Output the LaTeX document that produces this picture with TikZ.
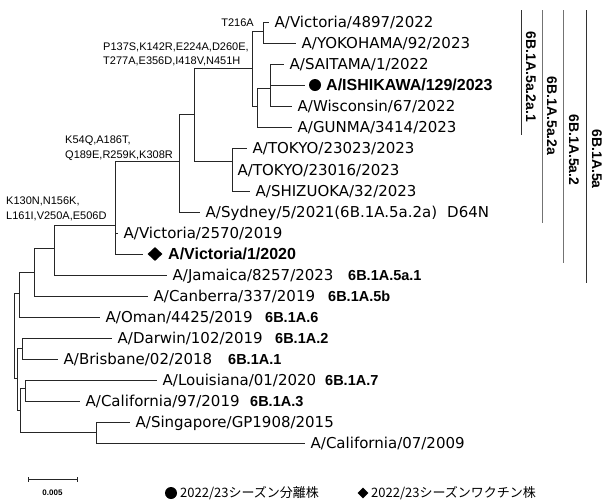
\documentclass[tikz,border=0pt]{standalone}
\usepackage{fontspec}
\setmainfont{DejaVu Sans}
\newfontfamily\lbfont{Liberation Sans}
\newfontfamily\jpfont{Noto Sans CJK JP}
\usetikzlibrary{shapes.geometric}
\begin{document}
\begin{tikzpicture}[x=1pt,y=-1pt,
  br/.style={draw=black!85, line width=0.9pt},
  bar/.style={draw=black!80, line width=1pt},
  leaf/.style={anchor=west, inner ysep=0pt, inner xsep=5.5pt, font=\fontsize{15}{15}\selectfont, text height=10.9pt, text depth=0pt},
  leafb/.style={anchor=west, inner ysep=0pt, inner xsep=5pt, font=\lbfont\bfseries\fontsize{16}{16}\selectfont, text height=11.5pt, text depth=0pt},
  clade/.style={anchor=west, inner sep=0pt, font=\lbfont\bfseries\fontsize{14.5}{14.5}\selectfont, text height=10.4pt, text depth=0pt},
  vclade/.style={inner sep=0pt, rotate=-90, font=\lbfont\bfseries\fontsize{14}{14}\selectfont, text height=10pt, text depth=0pt},
  mut/.style={inner sep=0pt, font=\lbfont\fontsize{11}{11}\selectfont, text height=7.9pt, text depth=0pt},
  dotmark/.style={circle, fill=black, inner sep=0pt, minimum size=12pt},
  diamark/.style={diamond, fill=black, inner sep=0pt, minimum width=15pt, minimum height=14pt},
  legtxt/.style={anchor=west, inner sep=0pt, font=\jpfont\fontsize{13}{13}\selectfont, text height=9.5pt, text depth=0pt}
]
\useasboundingbox (0,0) rectangle (607,499);

% internal nodes
\coordinate (R) at (14,335);
\coordinate (N1) at (19,293);
\coordinate (N3) at (34,272);
\coordinate (N4) at (54,248);
\coordinate (N5) at (115,225);
\coordinate (N6) at (179,161);
\coordinate (N7) at (194,114);
\coordinate (N8) at (252,68);
\coordinate (N9) at (232,161);
\coordinate (N10) at (263,31);
\coordinate (N11) at (257,106);
\coordinate (N12) at (270,88);
\coordinate (N2) at (17,378);
\coordinate (N13) at (22,348);
\coordinate (N14) at (20,410);
\coordinate (N15) at (25,388);
\coordinate (N16) at (96,432);

% leaves
\node[leaf] (l0) at (269,22) {A/Victoria/4897/2022};
\node[leaf] (l1) at (296,43) {A/YOKOHAMA/92/2023};
\node[leaf] (l2) at (284,64) {A/SAITAMA/1/2022};
\coordinate (e3) at (305,85);
\node[dotmark] (d3) at (315,85) {};
\node[leafb] (l3) at (321,85) {A/ISHIKAWA/129/2023};
\node[leaf] (l4) at (292,106) {A/Wisconsin/67/2022};
\node[leaf] (l5) at (292,127) {A/GUNMA/3414/2023};
\node[leaf] (l6) at (247,148) {A/TOKYO/23023/2023};
\node[leaf] (l7) at (232,170) {A/TOKYO/23016/2023};
\node[leaf] (l8) at (250,191) {A/SHIZUOKA/32/2023};
\node[leaf] (l9) at (200,212) {A/Sydney/5/2021(6B.1A.5a.2a)};
\node[leaf, inner xsep=0pt] (d64) at (447,212) {D64N};
\node[leaf] (l10) at (118,233) {A/Victoria/2570/2019};
\coordinate (e11) at (143,254);
\node[diamark] (d11) at (155,254) {};
\node[leafb] (l11) at (163,254) {A/Victoria/1/2020};
\node[leaf] (l12) at (167,275) {A/Jamaica/8257/2023};
\node[leaf] (l13) at (148,296) {A/Canberra/337/2019};
\node[leaf] (l14) at (100,317) {A/Oman/4425/2019};
\node[leaf] (l15) at (112,338) {A/Darwin/102/2019};
\node[leaf] (l16) at (58,359) {A/Brisbane/02/2018};
\node[leaf] (l17) at (157,380) {A/Louisiana/01/2020};
\node[leaf] (l18) at (80,401) {A/California/97/2019};
\node[leaf] (l19) at (130,422) {A/Singapore/GP1908/2015};
\node[leaf] (l20) at (305,443) {A/California/07/2009};

% clade labels next to leaves
\node[clade] (c12) at (348,275) {6B.1A.5a.1};
\node[clade] (c13) at (328,296) {6B.1A.5b};
\node[clade] (c14) at (265,317) {6B.1A.6};
\node[clade] (c15) at (275,338) {6B.1A.2};
\node[clade] (c16) at (228,359) {6B.1A.1};
\node[clade] (c17) at (325,380) {6B.1A.7};
\node[clade] (c18) at (250,401) {6B.1A.3};

% mutation labels
\node[mut, anchor=east] (m1) at (254,23) {T216A};
\node[mut, anchor=west] (m2a) at (103,47) {P137S,K142R,E224A,D260E,};
\node[mut, anchor=west] (m2b) at (103,61) {T277A,E356D,I418V,N451H};
\node[mut, anchor=west] (m3a) at (65,140) {K54Q,A186T,};
\node[mut, anchor=west] (m3b) at (65,155) {Q189E,R259K,K308R};
\node[mut, anchor=west] (m4a) at (6,201) {K130N,N156K,};
\node[mut, anchor=west] (m4b) at (6,216) {L161I,V250A,E506D};

% branches
\draw[br] (R) |- (N1);
\draw[br] (R) |- (N2);
\draw[br] (N1) |- (N3);
\draw[br] (N1) |- (l14.west);
\draw[br] (N3) |- (N4);
\draw[br] (N3) |- (l13.west);
\draw[br] (N4) |- (N5);
\draw[br] (N4) |- (l12.west);
\draw[br] (N5) |- (N6);
\draw[br] (N5) |- (l10.west);
\draw[br] (N5) |- (e11);
\draw[br] (N6) |- (N7);
\draw[br] (N6) |- (l9.west);
\draw[br] (N7) |- (N8);
\draw[br] (N7) |- (N9);
\draw[br] (N9) |- (l6.west);
\draw[br] (N9) |- (l7.west);
\draw[br] (N9) |- (l8.west);
\draw[br] (N8) |- (N10);
\draw[br] (N8) |- (N11);
\draw[br] (N10) |- (l0.west);
\draw[br] (N10) |- (l1.west);
\draw[br] (N11) |- (N12);
\draw[br] (N11) |- (l5.west);
\draw[br] (N12) |- (l2.west);
\draw[br] (N12) |- (e3);
\draw[br] (N12) |- (l4.west);
\draw[br] (N2) |- (N13);
\draw[br] (N2) |- (N14);
\draw[br] (N13) |- (l15.west);
\draw[br] (N13) |- (l16.west);
\draw[br] (N14) |- (N15);
\draw[br] (N14) |- (N16);
\draw[br] (N15) |- (l17.west);
\draw[br] (N15) |- (l18.west);
\draw[br] (N16) |- (l19.west);
\draw[br] (N16) |- (l20.west);

% right clade bars
\draw[bar] (521,10) -- (521,135);
\node[vclade] (v1) at (531,77) {6B.1A.5a.2a.1};
\draw[bar, draw=black!55] (542,10) -- (542,223);
\node[vclade] (v2) at (552,116) {6B.1A.5a.2a};
\draw[bar, draw=black!55] (563,10) -- (563,263);
\node[vclade] (v3) at (574,150) {6B.1A.5a.2};
\draw[bar] (586,10) -- (586,283);
\node[vclade] (v4) at (597,159) {6B.1A.5a};

% scale bar
\coordinate (sb1) at (28,479);
\coordinate (sb2) at (77,479);
\draw[br, line width=0.8pt] (sb1) -- (sb2);
\draw[br, line width=0.8pt] ([yshift=-2.5pt]sb1) -- ([yshift=2.5pt]sb1);
\draw[br, line width=0.8pt] ([yshift=-2.5pt]sb2) -- ([yshift=2.5pt]sb2);
\node[inner sep=0pt, font=\lbfont\bfseries\fontsize{8}{8}\selectfont] (sbl) at (52.5,493) {0.005};

% legend
\node[dotmark] (ld) at (171,493) {};
\node[legtxt] (lt1) at (180,493) {2022/23シーズン分離株};
\node[diamark, minimum width=11pt, minimum height=11pt] (lv) at (363,493) {};
\node[legtxt] (lt2) at (371,493) {2022/23シーズンワクチン株};
\end{tikzpicture}
\end{document}
